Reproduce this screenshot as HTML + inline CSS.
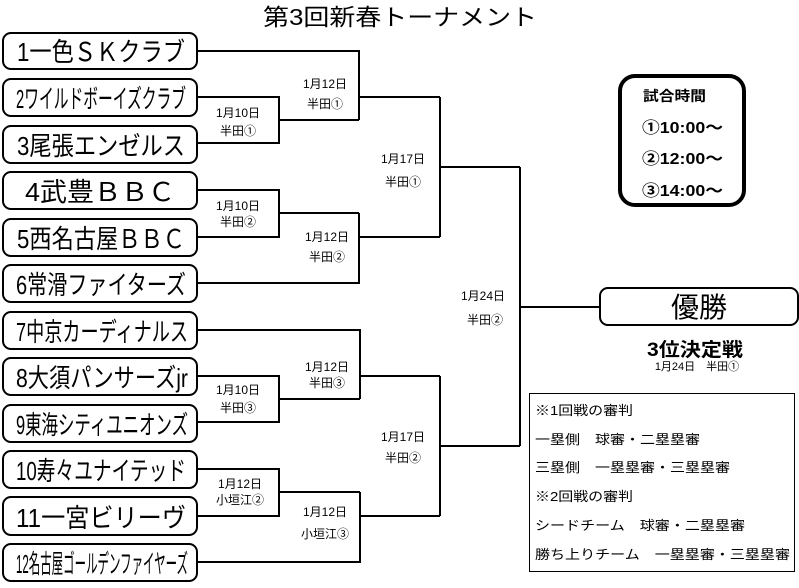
<!DOCTYPE html>
<html><head><meta charset="utf-8"><style>
html,body{margin:0;padding:0;background:#fff;}
svg{display:block;}
text{font-family:"Liberation Sans","Noto Sans CJK JP",sans-serif;fill:#000;}
</style></head><body>
<svg width="799" height="588" viewBox="0 0 799 588" xmlns="http://www.w3.org/2000/svg">
<text x="263" y="25" font-size="23" textLength="274" lengthAdjust="spacingAndGlyphs">第3回新春トーナメント</text>
<g fill="#fff" stroke="#000" stroke-width="2">
<rect x="3" y="33" width="194" height="36" rx="8"/>
<rect x="3" y="79" width="194" height="37" rx="8"/>
<rect x="3" y="126" width="194" height="37" rx="8"/>
<rect x="3" y="172" width="194" height="37" rx="8"/>
<rect x="3" y="219" width="194" height="37" rx="8"/>
<rect x="3" y="265" width="194" height="37" rx="8"/>
<rect x="3" y="312" width="194" height="37" rx="8"/>
<rect x="3" y="358" width="194" height="37" rx="8"/>
<rect x="3" y="405" width="194" height="37" rx="8"/>
<rect x="3" y="451" width="194" height="37" rx="8"/>
<rect x="3" y="497" width="194" height="38" rx="8"/>
<rect x="3" y="544" width="194" height="37" rx="8"/>
<rect x="600" y="288" width="198" height="37" rx="8"/>
</g>
<g font-size="26">
<text x="17" y="61" textLength="168" lengthAdjust="spacingAndGlyphs">1一色ＳＫクラブ</text>
<text x="16" y="108" textLength="170" lengthAdjust="spacingAndGlyphs">2ワイルドボーイズクラブ</text>
<text x="17" y="155" textLength="168" lengthAdjust="spacingAndGlyphs">3尾張エンゼルス</text>
<text x="25" y="201" textLength="150" lengthAdjust="spacingAndGlyphs">4武豊ＢＢＣ</text>
<text x="17" y="248" textLength="168" lengthAdjust="spacingAndGlyphs">5西名古屋ＢＢＣ</text>
<text x="16" y="294" textLength="170" lengthAdjust="spacingAndGlyphs">6常滑ファイターズ</text>
<text x="16" y="341" textLength="172" lengthAdjust="spacingAndGlyphs">7中京カーディナルス</text>
<text x="16" y="387" textLength="172" lengthAdjust="spacingAndGlyphs">8大須パンサーズjr</text>
<text x="16" y="434" textLength="172" lengthAdjust="spacingAndGlyphs">9東海シティユニオンズ</text>
<text x="16" y="480" textLength="170" lengthAdjust="spacingAndGlyphs">10寿々ユナイテッド</text>
<text x="16" y="527" textLength="170" lengthAdjust="spacingAndGlyphs">11一宮ビリーヴ</text>
<text x="16" y="573" textLength="172" lengthAdjust="spacingAndGlyphs">12名古屋ゴールデンファイヤーズ</text>
</g>
<text x="699" y="317" font-size="28" text-anchor="middle">優勝</text>
<g fill="none" stroke="#000" stroke-width="2">
<polyline points="197,97 279,97 279,143 197,143"/>
<line x1="279" y1="120" x2="359" y2="120"/>
<polyline points="197,51 359,51 359,120"/>
<line x1="359" y1="97" x2="440" y2="97"/>
<polyline points="197,190 279,190 279,237 197,237"/>
<line x1="279" y1="213" x2="359" y2="213"/>
<polyline points="359,213 359,283 197,283"/>
<line x1="359" y1="237" x2="440" y2="237"/>
<polyline points="440,97 440,237"/>
<line x1="440" y1="167" x2="520" y2="167"/>
<polyline points="197,330 360,330 360,399"/>
<polyline points="197,376 279,376 279,422 197,422"/>
<line x1="279" y1="399" x2="360" y2="399"/>
<line x1="360" y1="376" x2="440" y2="376"/>
<polyline points="197,469 279,469 279,516 197,516"/>
<line x1="279" y1="492" x2="360" y2="492"/>
<polyline points="360,492 360,562 197,562"/>
<line x1="360" y1="516" x2="440" y2="516"/>
<polyline points="440,376 440,516"/>
<line x1="440" y1="446" x2="520" y2="446"/>
<polyline points="520,167 520,446"/>
<line x1="520" y1="307" x2="600" y2="307"/>
</g>
<g font-size="12" text-anchor="middle">
<text x="325" y="88">1月12日</text><text x="325" y="108">半田①</text>
<text x="238" y="117">1月10日</text><text x="238" y="135">半田①</text>
<text x="403" y="163">1月17日</text><text x="403" y="186">半田①</text>
<text x="238" y="210">1月10日</text><text x="238" y="226">半田②</text>
<text x="327" y="241">1月12日</text><text x="327" y="261">半田②</text>
<text x="483" y="300">1月24日</text><text x="485" y="324">半田②</text>
<text x="327" y="371">1月12日</text><text x="327" y="387">半田③</text>
<text x="238" y="394">1月10日</text><text x="238" y="412">半田③</text>
<text x="403" y="441">1月17日</text><text x="403" y="462">半田②</text>
<text x="240" y="488">1月12日</text><text x="240" y="504">小垣江②</text>
<text x="325" y="516">1月12日</text><text x="325" y="538">小垣江③</text>
</g>
<rect x="620" y="76" width="124" height="129" rx="15" fill="none" stroke="#000" stroke-width="4"/>
<g font-weight="bold">
<text x="643" y="101" font-size="14" textLength="63" lengthAdjust="spacingAndGlyphs">試合時間</text>
<text x="642" y="133" font-size="16" textLength="81" lengthAdjust="spacingAndGlyphs">①10:00～</text>
<text x="642" y="164" font-size="16" textLength="81" lengthAdjust="spacingAndGlyphs">②12:00～</text>
<text x="642" y="196" font-size="16" textLength="81" lengthAdjust="spacingAndGlyphs">③14:00～</text>
</g>
<text x="647" y="356" font-size="19" font-weight="bold" textLength="96" lengthAdjust="spacingAndGlyphs">3位決定戦</text>
<text x="697" y="370" font-size="11" text-anchor="middle">1月24日　半田①</text>
<rect x="529.5" y="393.5" width="265" height="178" fill="none" stroke="#000" stroke-width="1"/>
<g font-size="13">
<text x="535" y="415" textLength="98" lengthAdjust="spacingAndGlyphs">※1回戦の審判</text>
<text x="535" y="444" textLength="165" lengthAdjust="spacingAndGlyphs">一塁側　球審・二塁塁審</text>
<text x="535" y="472" textLength="195" lengthAdjust="spacingAndGlyphs">三塁側　一塁塁審・三塁塁審</text>
<text x="535" y="501" textLength="98" lengthAdjust="spacingAndGlyphs">※2回戦の審判</text>
<text x="535" y="530" textLength="210" lengthAdjust="spacingAndGlyphs">シードチーム　球審・二塁塁審</text>
<text x="535" y="559" textLength="255" lengthAdjust="spacingAndGlyphs">勝ち上りチーム　一塁塁審・三塁塁審</text>
</g>
</svg>
</body></html>
